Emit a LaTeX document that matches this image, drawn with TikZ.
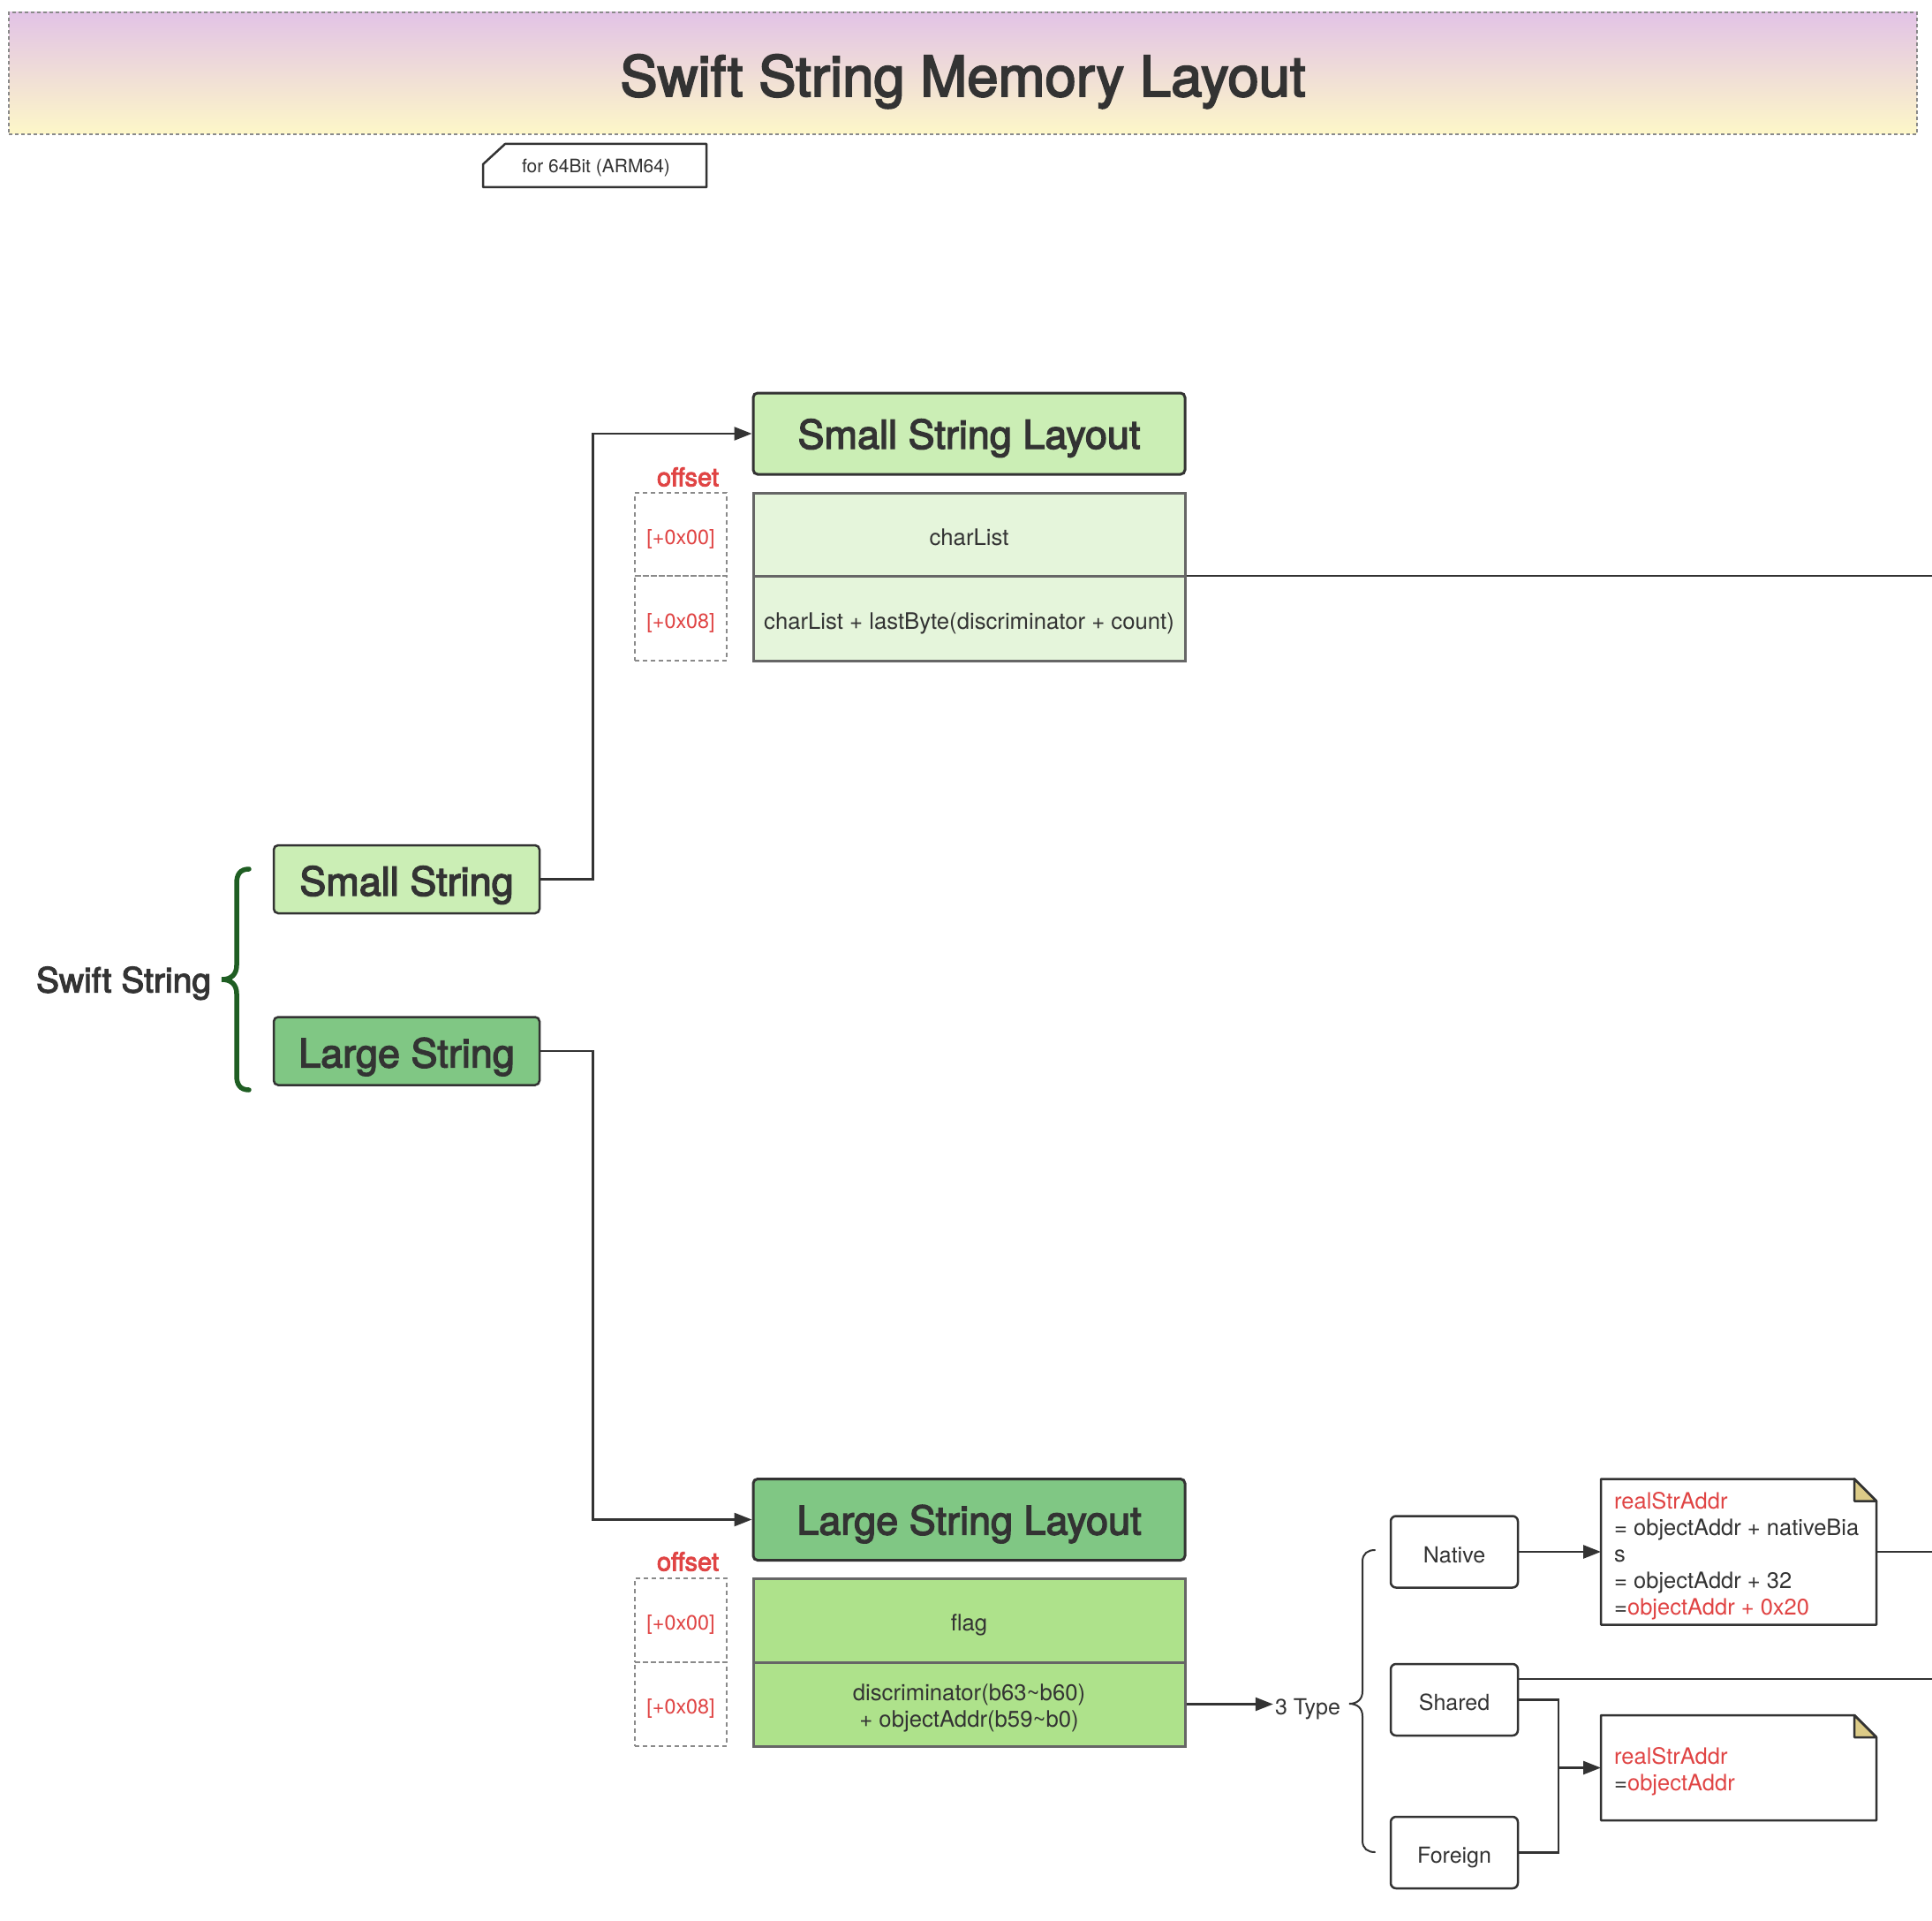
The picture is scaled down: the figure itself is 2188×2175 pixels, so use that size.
\documentclass[tikz,border=0pt]{standalone}
\usepackage{fontspec}
\setmainfont{TeX Gyre Heros}
\newfontfamily\medfont[FakeBold=3]{TeX Gyre Heros}
\usetikzlibrary{arrows.meta,calc}
\definecolor{ink}{HTML}{333333}
\definecolor{redtxt}{HTML}{E04444}
\definecolor{lgreen}{HTML}{CBEEB5}
\definecolor{vlgreen}{HTML}{E5F5DB}
\definecolor{dgreen}{HTML}{80C784}
\definecolor{mgreen}{HTML}{AEE28B}
\definecolor{bracegreen}{HTML}{1F5E23}
\definecolor{lav}{HTML}{E2C3E6}
\definecolor{pyel}{HTML}{FDF7C8}
\definecolor{foldtan}{HTML}{DCCB87}
\definecolor{cellborder}{HTML}{666666}
\definecolor{dashgray}{HTML}{8A8A8A}
\newcommand\fsz[2]{\fontsize{#1}{#2}\selectfont}
\begin{document}
\begin{tikzpicture}[x=1pt,y=-1pt,
  hdr/.style={draw=ink, line width=3pt, rounded corners=5pt, minimum width=489pt, minimum height=92pt, inner sep=0pt, font=\medfont\fsz{45}{52}, text=ink, text height=34pt, text depth=0pt},
  cellbox/.style={draw=cellborder, line width=3pt, minimum width=489pt, inner sep=0pt, align=center, font=\fsz{25.7}{30}, text=ink},
  onecell/.style={text height=24pt, text depth=0pt},
  offcell/.style={draw=dashgray, dash pattern=on 5pt off 4pt, line width=1.5pt, minimum width=104pt, inner sep=0pt, font=\fsz{23.3}{27}, text=redtxt, text height=22pt, text depth=0pt},
  strnode/.style={draw=ink, line width=2.5pt, rounded corners=5pt, minimum width=301pt, minimum height=77pt, inner sep=0pt, font=\medfont\fsz{45}{54}, text=ink, text height=37pt, text depth=0pt},
  typebox/.style={draw=ink, line width=2.5pt, rounded corners=6pt, minimum width=144pt, minimum height=81pt, inner sep=0pt, fill=white, font=\fsz{25}{30}, text=ink, text height=24pt, text depth=0pt},
  offlabel/.style={font=\medfont\fsz{29}{33}, text=redtxt, inner sep=0pt},
  notetext/.style={anchor=north west, inner sep=0pt, align=left, font=\fsz{25.5}{30}, text=ink},
  conn/.style={draw=ink, line width=2.5pt},
  arr/.style={draw=ink, line width=2.5pt, -{Triangle[length=20pt,width=15pt]}}
]
\useasboundingbox (0,0) rectangle (2188,2175);
\fill[white] (0,0) rectangle (2188,2175);

% title band
\node[draw=dashgray, dash pattern=on 4pt off 3pt, line width=1.5pt, top color=lav, bottom color=pyel,
      minimum width=2161pt, minimum height=138pt, inner sep=0pt, font=\medfont\fsz{63.5}{72}, text=ink,
      text height=52pt, text depth=0pt]
      (title) at (1090.5,83) {Swift String Memory Layout};

% tag
\node[font=\fsz{21}{25}, text=ink, inner sep=0pt] (tag) at (675,190.5) {for 64Bit (ARM64)};
\draw[ink, line width=2.5pt, line join=round] (572,163) -- (800,163) -- (800,212) -- (547,212) -- (547,186) -- cycle;

% Swift String + brace
\node[font=\medfont\fsz{39}{45}, text=ink, inner sep=0pt, text depth=0pt] (swift) at (140,1109) {Swift String};
\draw[bracegreen, line width=5.5pt, line cap=round]
  (282,984) .. controls (272,984) and (268,990) .. (268,1000)
  -- (268,1093) .. controls (268,1103) and (262,1109) .. (251,1109)
  .. controls (262,1109) and (268,1115) .. (268,1125)
  -- (268,1218) .. controls (268,1228) and (272,1234) .. (282,1234);

\node[strnode, fill=lgreen] (ss) at (460.5,995.5) {Small String};
\node[strnode, fill=dgreen] (ls) at (460.5,1190) {Large String};

% Small string layout
\node[hdr, fill=lgreen] (sh) at (1097.5,491) {Small String Layout};
\node[offlabel] (soff) at (779,540) {offset};
\node[cellbox, onecell, fill=vlgreen, minimum height=94pt] (sc1) at (1097.5,605) {charList};
\node[cellbox, onecell, fill=vlgreen, minimum height=96pt] (sc2) at (1097.5,700) {charList + lastByte(discriminator + count)};
\node[offcell, minimum height=94pt] (so1) at (771,605) {[+0x00]};
\node[offcell, minimum height=96pt] (so2) at (771,700) {[+0x08]};

% Large string layout
\node[hdr, fill=dgreen] (lh) at (1097.5,1720.5) {Large String Layout};
\node[offlabel] (loff) at (779,1768) {offset};
\node[cellbox, onecell, fill=mgreen, minimum height=95pt] (lc1) at (1097.5,1834.5) {flag};
\node[cellbox, fill=mgreen, minimum height=95pt] (lc2) at (1097.5,1929.5) {};
\node[font=\fsz{25.7}{30}, text=ink, align=center, inner sep=0pt] (lc2t) at (1097.5,1933.5) {discriminator(b63\textasciitilde b60)\\+ objectAddr(b59\textasciitilde b0)};
\node[offcell, minimum height=95pt] (lo1) at (771,1834.5) {[+0x00]};
\node[offcell, minimum height=95pt] (lo2) at (771,1929.5) {[+0x08]};

% connectors left
\draw[arr] (ss.east) -- ++(59,0) |- (sh.west);
\draw[arr] (ls.east) -- ++(59,0) |- (lh.west);

% line from small table to right edge
\coordinate (e1) at (2188,652);
\draw[conn] (sc2.north east |- e1) -- (e1);

% 3 Type
\node[font=\fsz{25}{30}, text=ink, inner sep=2pt, text height=24pt, text depth=0pt] (ttype) at (1481,1929.5) {3 Type};
\draw[arr] (lc2.east) -- (ttype.west);
\draw[ink, line width=2pt, line cap=round]
  (1557,1755) .. controls (1549,1755) and (1543,1759) .. (1543,1768)
  -- (1543,1915) .. controls (1543,1924) and (1537,1929) .. (1528,1929)
  .. controls (1537,1929) and (1543,1934) .. (1543,1943)
  -- (1543,2084) .. controls (1543,2093) and (1549,2097) .. (1557,2097);

\node[typebox] (native) at (1647,1757) {Native};
\node[typebox] (shared) at (1647,1924.5) {Shared};
\node[typebox] (foreign) at (1647,2097.5) {Foreign};

% notes
\node[minimum width=312pt, minimum height=165pt, inner sep=0pt, outer sep=0pt] (note1) at (1969,1757) {};
\draw[ink, line width=2.5pt, fill=white, line join=round] (note1.north west) -- ($(note1.north east)+(-25,0)$) -- ($(note1.north east)+(0,25)$) -- (note1.south east) -- (note1.south west) -- cycle;
\filldraw[fill=foldtan, draw=ink, line width=2.5pt, line join=round] ($(note1.north east)+(-25,0)$) -- ($(note1.north east)+(-25,25)$) -- ($(note1.north east)+(0,25)$) -- cycle;
\node[notetext] (n1text) at (1828,1689) {\textcolor{redtxt}{realStrAddr}\\= objectAddr + nativeBia\\s\\= objectAddr + 32\\=\textcolor{redtxt}{objectAddr + 0x20}};

\node[minimum width=312pt, minimum height=119pt, inner sep=0pt, outer sep=0pt] (note2) at (1969,2001.5) {};
\draw[ink, line width=2.5pt, fill=white, line join=round] (note2.north west) -- ($(note2.north east)+(-25,0)$) -- ($(note2.north east)+(0,25)$) -- (note2.south east) -- (note2.south west) -- cycle;
\filldraw[fill=foldtan, draw=ink, line width=2.5pt, line join=round] ($(note2.north east)+(-25,0)$) -- ($(note2.north east)+(-25,25)$) -- ($(note2.north east)+(0,25)$) -- cycle;
\node[notetext] (n2text) at (1828,1978) {\textcolor{redtxt}{realStrAddr}\\=\textcolor{redtxt}{objectAddr}};

% type connectors
\draw[arr] (native.east) -- (note1.west);
\coordinate (e2) at (2188,1757);
\draw[conn] (note1.east) -- (e2);
\coordinate (e3) at (2188,1901);
\draw[conn] (shared.east |- e3) -- (e3);
\coordinate (j) at (1765,2001.5);
\draw[conn] (shared.east) -| (j);
\draw[conn] (foreign.east) -| (j);
\draw[arr] (j) -- (note2.west);
\end{tikzpicture}
\end{document}
